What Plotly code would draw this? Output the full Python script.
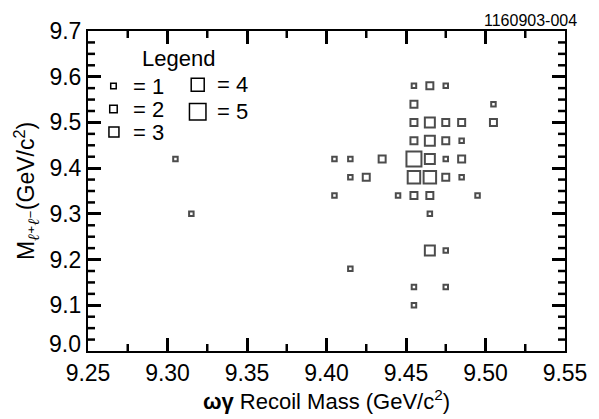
import plotly.graph_objects as go

# ---- data (bin centers and number of entries per bin) ----
x_vals = [9.305, 9.315, 9.405, 9.415, 9.405, 9.415, 9.425, 9.435, 9.415, 9.445,
          9.455, 9.455, 9.455, 9.455, 9.455, 9.455, 9.455, 9.455, 9.455,
          9.465, 9.465, 9.465, 9.465, 9.465, 9.465, 9.465, 9.465,
          9.475, 9.475, 9.475, 9.475, 9.475, 9.475, 9.475,
          9.485, 9.485, 9.485, 9.485,
          9.495,
          9.505, 9.505]
y_vals = [9.42, 9.30, 9.42, 9.42, 9.34, 9.38, 9.38, 9.42, 9.18, 9.34,
          9.58, 9.54, 9.50, 9.46, 9.42, 9.38, 9.34, 9.14, 9.10,
          9.58, 9.50, 9.46, 9.42, 9.38, 9.34, 9.30, 9.22,
          9.58, 9.50, 9.46, 9.42, 9.38, 9.22, 9.14,
          9.50, 9.46, 9.42, 9.38,
          9.34,
          9.54, 9.50]
counts = [1, 1, 1, 1, 1, 1, 2, 2, 1, 1,
          1, 2, 2, 2, 5, 4, 2, 1, 1,
          2, 3, 3, 3, 4, 2, 1, 3,
          1, 2, 2, 1, 2, 1, 1,
          2, 1, 2, 1,
          1,
          1, 2]

x_range = [9.25, 9.55]
y_range = [9.0, 9.7]
x_major = [9.25, 9.30, 9.35, 9.40, 9.45, 9.50, 9.55]
x_minor = [9.275, 9.325, 9.375, 9.425, 9.475, 9.525]
y_major = [9.0, 9.1, 9.2, 9.3, 9.4, 9.5, 9.6, 9.7]
y_minor = [9.025, 9.05, 9.075, 9.125, 9.15, 9.175, 9.225, 9.25, 9.275,
           9.325, 9.35, 9.375, 9.425, 9.45, 9.475, 9.525, 9.55, 9.575,
           9.625, 9.65, 9.675]
legend_counts = [1, 2, 3, 4, 5]

# ---- style ----
FONT = "Liberation Sans, Arial, Helvetica, sans-serif"
box_size = {1: 4.5, 2: 7, 3: 10, 4: 12.5, 5: 15}
legend_box = {1: 5.5, 2: 7.5, 3: 10, 4: 13, 5: 16.5}
legend_pos = {1: (0.0534, 0.828), 2: (0.0534, 0.756), 3: (0.0544, 0.684),
              4: (0.230, 0.832), 5: (0.230, 0.748)}
legend_text_x = {1: 0.0903, 2: 0.0903, 3: 0.0903, 4: 0.266, 5: 0.266}
MAJ, MIN = 13, 7
MAJ_W, MIN_W = 3, 2.5

fig = go.Figure()
fig.add_trace(go.Scatter(
    x=x_vals, y=y_vals, mode="markers",
    marker=dict(symbol="square-open", color="black",
                size=[box_size[c] for c in counts],
                line=dict(width=2, color="black")),
    hoverinfo="x+y", showlegend=False))

shapes = []
annotations = []

# short (minor) inside ticks on all four sides, placed through the data scales
def xtick(v, ln):
    for anchor, sgn in ((0, 1), (1, -1)):
        shapes.append(dict(type="line", xref="x", yref="paper",
                           ysizemode="pixel", yanchor=anchor,
                           x0=v, x1=v, y0=0, y1=sgn * ln,
                           line=dict(color="black", width=MIN_W)))

def ytick(v, ln):
    for anchor, sgn in ((0, 1), (1, -1)):
        shapes.append(dict(type="line", xref="paper", yref="y",
                           xsizemode="pixel", xanchor=anchor,
                           y0=v, y1=v, x0=0, x1=sgn * ln,
                           line=dict(color="black", width=MIN_W)))

for v in x_minor:
    xtick(v, MIN)
for v in y_minor:
    ytick(v, MIN)

for c in legend_counts:
    px, py = legend_pos[c]
    s = legend_box[c]
    shapes.append(dict(type="rect", xref="paper", yref="paper",
                       xsizemode="pixel", ysizemode="pixel",
                       xanchor=px, yanchor=py,
                       x0=-s / 2, x1=s / 2, y0=-s / 2, y1=s / 2,
                       line=dict(color="black", width=1.5)))
    annotations.append(dict(x=legend_text_x[c], y=py, xref="paper", yref="paper",
                            text="= %d" % c, showarrow=False, xanchor="left",
                            yanchor="middle", font=dict(family=FONT, size=22, color="black")))

annotations.append(dict(x=0.189, y=0.914, xref="paper", yref="paper", text="Legend",
                        showarrow=False, xanchor="center", yanchor="middle",
                        font=dict(family=FONT, size=22, color="black")))
annotations.append(dict(x=1.0, y=1.0, xref="paper", yref="paper", text="1160903-004",
                        showarrow=False, xanchor="right", yanchor="bottom", yshift=0,
                        xshift=14,
                        font=dict(family=FONT, size=16, color="black")))
# raised "9.0" label as in the original
annotations.append(dict(x=0, y=y_range[0], xref="paper", yref="y", text="9.0",
                        showarrow=False, xanchor="right", yanchor="middle",
                        xshift=-5, yshift=7,
                        font=dict(family=FONT, size=23, color="black")))

fig.update_layout(
    width=599, height=419,
    margin=dict(l=88, r=24, t=31, b=62),
    paper_bgcolor="white", plot_bgcolor="white",
    font=dict(family=FONT, size=23, color="black"),
    shapes=shapes, annotations=annotations,
    showlegend=False,
)
fig.update_xaxes(
    range=x_range, tickmode="array", tickvals=x_major,
    ticktext=["%.2f" % v for v in x_major],
    showgrid=False, zeroline=False,
    showline=True, linecolor="black", linewidth=2, mirror="ticks",
    ticks="inside", ticklen=MAJ, tickwidth=MAJ_W, tickcolor="black",
    tickfont=dict(family=FONT, size=23),
    title=dict(text="<b>ωγ</b> Recoil Mass (GeV/c<sup>2</sup>)",
               font=dict(family=FONT, size=22), standoff=6),
)
fig.update_yaxes(
    range=y_range, tickmode="array", tickvals=y_major,
    ticktext=[""] + ["%.1f" % v for v in y_major[1:]],
    showgrid=False, zeroline=False,
    showline=True, linecolor="black", linewidth=2, mirror="ticks",
    ticks="inside", ticklen=MAJ, tickwidth=MAJ_W, tickcolor="black",
    tickfont=dict(family=FONT, size=23),
    title=dict(text='M<sub><span style="font-family:DejaVu Serif"><b><i>ℓ⁺ℓ⁻</i></b></span></sub>(GeV/c<sup>2</sup>)',
               font=dict(family=FONT, size=23), standoff=8),
)

fig.write_html("out.html")
